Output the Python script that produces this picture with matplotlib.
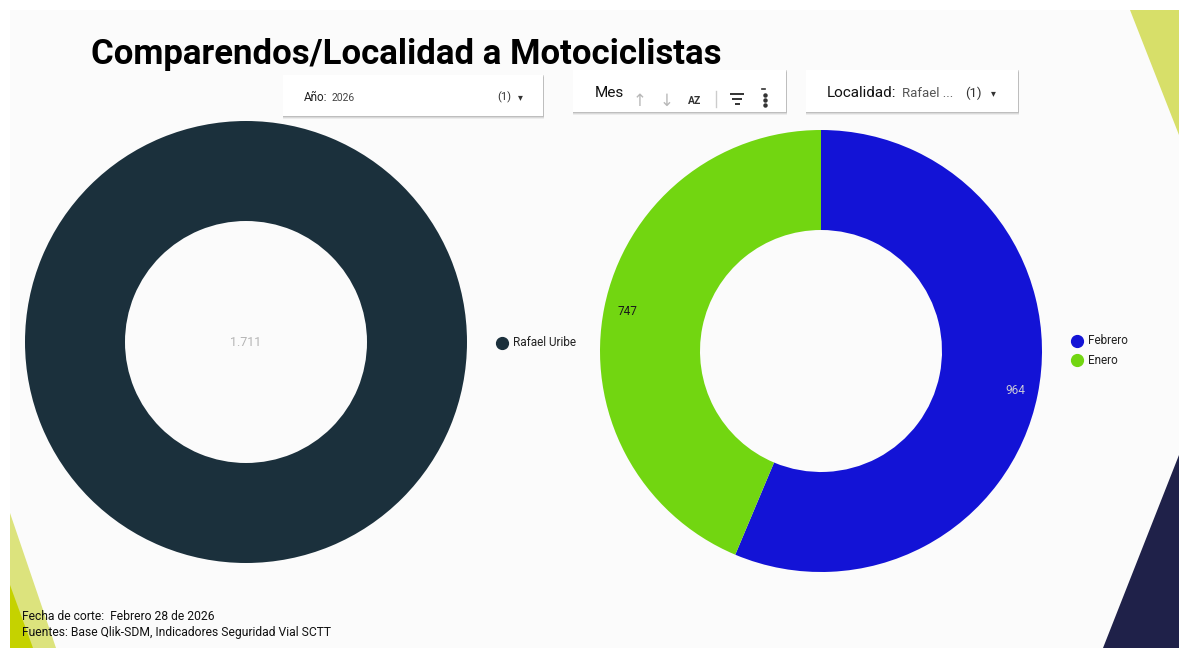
import matplotlib
matplotlib.use("Agg")
import matplotlib.pyplot as plt
from matplotlib.patches import Polygon, Rectangle

# ---------------- data ----------------
localidades = ["Rafael Uribe"]
localidad_values = [1711]
meses = ["Febrero", "Enero"]
mes_values = [964, 747]
title = "Comparendos/Localidad a Motociclistas"
footer_lines = ["Fecha de corte:  Febrero 28 de 2026",
                "Fuentes: Base Qlik-SDM, Indicadores Seguridad Vial SCTT"]

# ---------------- style ----------------
plt.rcParams['font.family'] = ['Roboto', 'DejaVu Sans']
W, H = 1179, 648
DPI = 100
col_left = "#1b303c"
col_mes = ["#1313d6", "#72d611"]
label_cols = ["#c8c8d8", "#1a1a1a"]

fig = plt.figure(figsize=(W / DPI, H / DPI), dpi=DPI)
fig.patch.set_facecolor("white")

bg = fig.add_axes([0, 0, 1, 1])
bg.set_xlim(0, W)
bg.set_ylim(H, 0)
bg.axis("off")

# panel
bg.add_patch(Rectangle((10, 10), W - 10, H - 10, facecolor="#fbfbfb", edgecolor="none", zorder=0))
# decorative triangles
bg.add_patch(Polygon([(1130, 10), (1179, 10), (1179, 135)], closed=True, facecolor="#d7df69", edgecolor="none", zorder=1))
bg.add_patch(Polygon([(1179, 455), (1179, 648), (1103, 648)], closed=True, facecolor="#1f2149", edgecolor="none", zorder=1))
bg.add_patch(Polygon([(10, 513), (56, 648), (10, 648)], closed=True, facecolor="#dce37d", edgecolor="none", zorder=1))
bg.add_patch(Polygon([(10, 585), (33, 648), (10, 648)], closed=True, facecolor="#c5d200", edgecolor="none", zorder=1))

# title
bg.text(91, 64, title, fontsize=25, fontweight="bold", color="black", ha="left", va="baseline", zorder=5)

# footer
bg.text(22, 620, footer_lines[0], fontsize=8.7, color="#111111", ha="left", va="baseline", zorder=5)
bg.text(22, 636, footer_lines[1], fontsize=8.7, color="#111111", ha="left", va="baseline", zorder=5)


def card(x0, y0, x1, y1):
    for i, a in enumerate([0.06, 0.08, 0.12]):
        off = 3 - i
        bg.add_patch(Rectangle((x0 - 0.5, y0 + off - 1), x1 - x0 + 1, y1 - y0 + 1,
                               facecolor="black", alpha=a, edgecolor="none", zorder=2))
    bg.add_patch(Rectangle((x0, y0), x1 - x0, y1 - y0, facecolor="white", edgecolor="none", zorder=3))


# filter card: Año
card(283, 75, 543, 116)
bg.text(304, 101, "Año:", fontsize=8.5, color="#222222", ha="left", va="baseline", zorder=5)
bg.text(332, 101, "2026", fontsize=7.5, color="#444444", ha="left", va="baseline", zorder=5)
bg.text(497, 100, "(1)", fontsize=8, color="#333333", ha="left", va="baseline", zorder=5)
bg.text(520, 100, "▾", fontsize=7, color="#333333", ha="center", va="baseline", family="DejaVu Sans", zorder=5)

# filter card: Mes
card(573, 70, 786, 112)
bg.text(595, 97, "Mes", fontsize=11, color="#111111", ha="left", va="baseline", zorder=5)
bg.text(640, 106, "↑", fontsize=12, color="#b8b8b8", ha="center", va="baseline", family="DejaVu Sans", zorder=5)
bg.text(667, 106, "↓", fontsize=12, color="#b8b8b8", ha="center", va="baseline", family="DejaVu Sans", zorder=5)
bg.text(695, 104, "AZ", fontsize=7.5, fontweight="bold", color="#333333", ha="center", va="baseline", zorder=5)
bg.plot([716, 716], [91, 107], color="#cccccc", lw=1, zorder=5)
for yy, half in [(94, 7), (99, 5), (104, 2.5)]:
    bg.plot([737 - half, 737 + half], [yy, yy], color="#333333", lw=1.4, zorder=5, solid_capstyle="butt")
for yy in [95, 100, 105]:
    bg.plot([765], [yy], marker="o", markersize=2.2, color="#333333", zorder=5)
bg.plot([762, 765], [89, 89], color="#333333", lw=1.2, zorder=5)

# filter card: Localidad
card(806, 70, 1018, 112)
bg.text(827, 97, "Localidad:", fontsize=11, color="#111111", ha="left", va="baseline", zorder=5)
bg.text(902, 97, "Rafael ...", fontsize=9.5, color="#555555", ha="left", va="baseline", zorder=5)
bg.text(965, 97, "(1)", fontsize=9.5, color="#333333", ha="left", va="baseline", zorder=5)
bg.text(993, 96, "▾", fontsize=7, color="#333333", ha="center", va="baseline", family="DejaVu Sans", zorder=5)


def pie_axes(cx, cy, r):
    ax = fig.add_axes([(cx - r) / W, (H - cy - r) / H, 2 * r / W, 2 * r / H])
    ax.axis("off")
    return ax


def fix_limits(ax):
    ax.set_xlim(-1, 1)
    ax.set_ylim(-1, 1)
    ax.set_aspect("equal")


ring_width = 100 / 221

# left donut
axL = pie_axes(246, 342, 221)
axL.pie(localidad_values, colors=[col_left], radius=1, startangle=90, counterclock=False,
        wedgeprops=dict(width=ring_width, edgecolor="none"))
fix_limits(axL)
total_left = sum(localidad_values)
axL.text(0, 0, f"{total_left:,}".replace(",", "."), fontsize=9, color="#b5b5b5", ha="center", va="center")

# right donut
total_mes = sum(mes_values)
axR = pie_axes(821, 351, 221)
wedges, texts, autotexts = axR.pie(
    mes_values, colors=col_mes, radius=1, startangle=90, counterclock=False,
    wedgeprops=dict(width=ring_width, edgecolor="none"),
    autopct=lambda p: f"{round(p * total_mes / 100):,}".replace(",", "."),
    pctdistance=0.895)
fix_limits(axR)
for t, c in zip(autotexts, label_cols):
    t.set_color(c)
    t.set_fontsize(8.5)

# legends
for name, c, (x, y) in zip(localidades, [col_left], [(502, 343)]):
    bg.plot([x], [y], marker="o", markersize=8.5, color=c, zorder=5)
    bg.text(x + 11, y, name, fontsize=8.5, color="#222222", ha="left", va="center", zorder=5)
for i, (name, c) in enumerate(zip(meses, col_mes)):
    x, y = 1077, 341 + 19 * i
    bg.plot([x], [y], marker="o", markersize=8.5, color=c, zorder=5)
    bg.text(x + 11, y, name, fontsize=8.5, color="#222222", ha="left", va="center", zorder=5)

fig.savefig("out.png", dpi=DPI, facecolor=fig.get_facecolor())
